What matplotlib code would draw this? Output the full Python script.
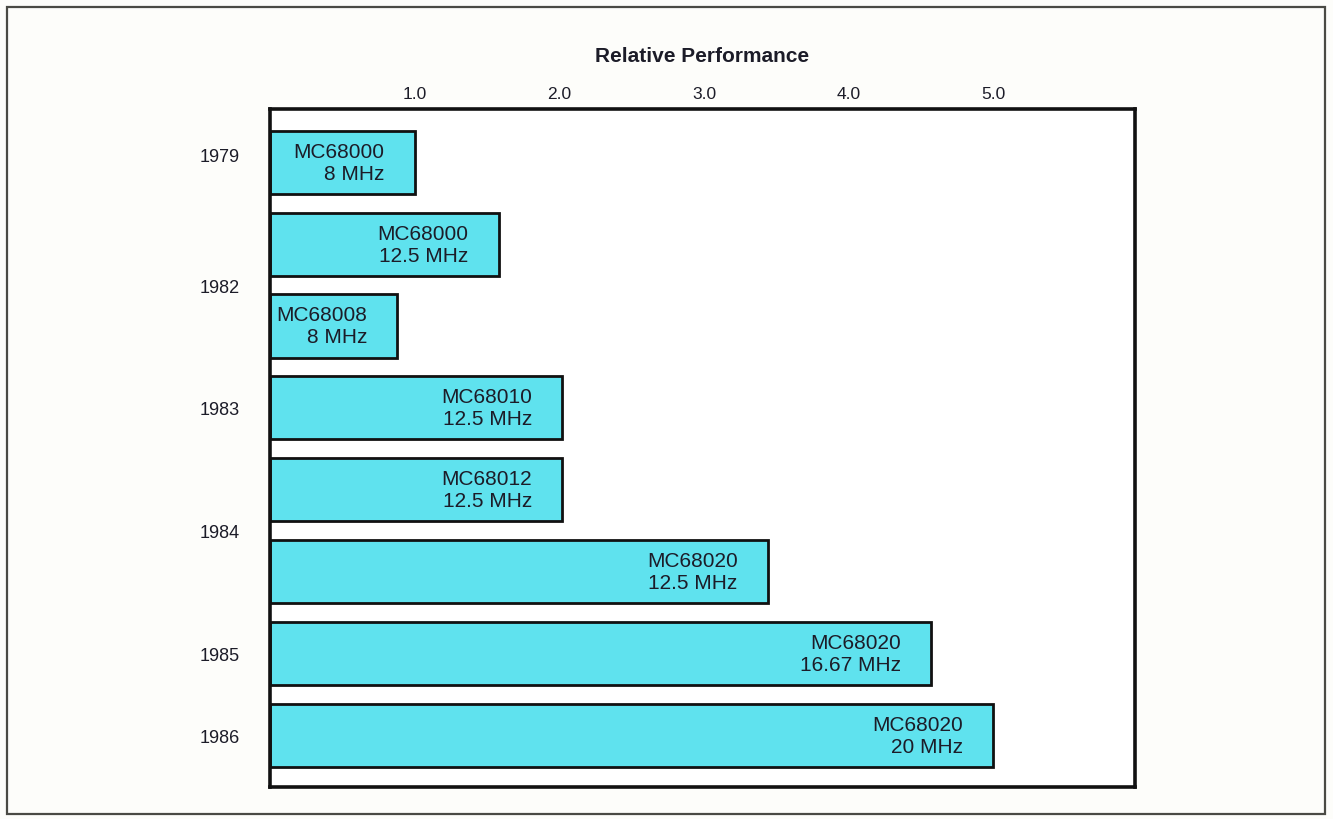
import matplotlib
matplotlib.use("Agg")
import matplotlib.pyplot as plt
from matplotlib.patches import Rectangle

plt.rcParams['font.family'] = ['Liberation Sans', 'DejaVu Sans']

# Data
chips = ['MC68000', 'MC68000', 'MC68008', 'MC68010', 'MC68012', 'MC68020', 'MC68020', 'MC68020']
clocks = ['8 MHz', '12.5 MHz', '8 MHz', '12.5 MHz', '12.5 MHz', '12.5 MHz', '16.67 MHz', '20 MHz']
perf = [1.0, 1.58, 0.88, 2.02, 2.02, 3.44, 4.57, 5.0]
years = ['1979', '1982', '1983', '1984', '1985', '1986']
year_pos = [-0.1, 1.5, 3.0, 4.5, 6.0, 7.0]
xticks = [1, 2, 3, 4, 5]
xticklabels = ['1.0', '2.0', '3.0', '4.0', '5.0']

bar_color = '#5fe2ee'
ink = '#1c1c28'

fig = plt.figure(figsize=(13.33, 8.2), dpi=100, facecolor='#fdfdfa')

# outer frame
fig.patches.append(Rectangle((7 / 1333, 5 / 820), 1318 / 1333, 807 / 820,
                             transform=fig.transFigure, fill=False,
                             edgecolor='#4a4a44', linewidth=1.6))

ax = fig.add_axes([270 / 1333, 1 - 788 / 820, 865 / 1333, 678 / 820])
ax.set_facecolor('white')

pos = list(range(len(perf)))
ax.barh(pos, perf, height=0.77, color=bar_color, edgecolor='#111111', linewidth=2.0)

for p, v, c, f in zip(pos, perf, chips, clocks):
    ax.annotate(c + '\n' + f, xy=(v, p), xytext=(-30, 0), textcoords='offset pixels',
                ha='right', va='center', multialignment='right', fontsize=15,
                color=ink, linespacing=1.2)

ax.set_xlim(0, 5.98)
ax.set_ylim(7.63, -0.65)

ax.xaxis.tick_top()
ax.set_xticks(xticks)
ax.set_xticklabels(xticklabels)
ax.set_yticks(year_pos)
ax.set_yticklabels(years)
ax.tick_params(axis='x', length=0, pad=6, labelsize=12.5, labelcolor=ink)
ax.tick_params(axis='y', length=0, pad=22, labelsize=13, labelcolor=ink)

for s in ax.spines.values():
    s.set_linewidth(2.6)
    s.set_color('#111111')

fig.text((270 + 865 / 2) / 1333, 1 - 57 / 820, 'Relative Performance', ha='center', va='center',
         fontsize=15, fontweight='bold', color=ink)

fig.savefig('out.png', dpi=100, facecolor=fig.get_facecolor())
